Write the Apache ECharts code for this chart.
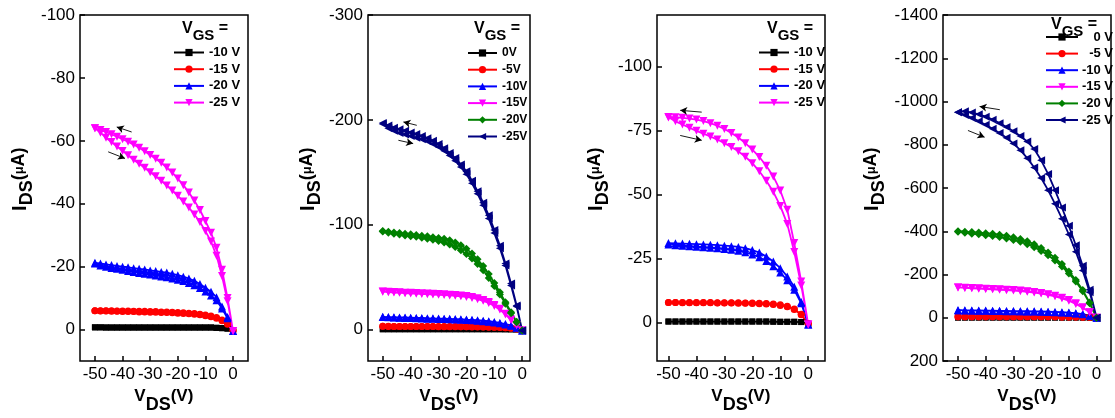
<!DOCTYPE html>
<html>
<head>
<meta charset="utf-8">
<script src="https://cdn.jsdelivr.net/npm/echarts@6/dist/echarts.min.js"></script>
<style>html,body{margin:0;padding:0;background:#fff;}#c{width:1115px;height:418px;}</style>
</head>
<body>
<div id="c"></div>
<script>
// ---------------- DATA ----------------
// drain voltage sweep points (V), from 0 to -50
const vdsFine = [0,-2,-4,-6,-8,-10,-12,-14,-16,-18,-20,-22,-24,-26,-28,-30,-32,-34,-36,-38,-40,-42,-44,-46,-48,-50];
const vdsCoarse = [0,-2.5,-5,-7.5,-10,-12.5,-15,-17.5,-20,-22.5,-25,-27.5,-30,-32.5,-35,-37.5,-40,-42.5,-45,-47.5,-50];
const xTickValues = [-50,-40,-30,-20,-10,0];

// Panel 1 (VGS = -10 .. -25 V), IDS in uA; "a" = branch 0 -> -50, "b" = return branch (listed 0 -> -50)
const p1Labels = ['-10 V','-15 V','-20 V','-25 V'];
const p1YTicks = [-100,-80,-60,-40,-20,0];
const p1_m10_a = [0.3,-0.3,-0.5,-0.6,-0.7,-0.7,-0.7,-0.7,-0.7,-0.7,-0.7,-0.7,-0.7,-0.7,-0.7,-0.7,-0.7,-0.7,-0.7,-0.7,-0.7,-0.7,-0.7,-0.7,-0.7,-0.7];
const p1_m10_b = [0.3,-0.3,-0.4,-0.5,-0.6,-0.6,-0.6,-0.6,-0.6,-0.6,-0.6,-0.6,-0.6,-0.6,-0.6,-0.6,-0.6,-0.6,-0.6,-0.6,-0.6,-0.6,-0.6,-0.6,-0.7,-0.7];
const p1_m15_a = [0.3,-1.9,-3,-3.8,-4.3,-4.6,-4.9,-5.1,-5.2,-5.3,-5.4,-5.5,-5.6,-5.6,-5.7,-5.7,-5.8,-5.8,-5.8,-5.9,-5.9,-5.9,-6,-6,-6,-6];
const p1_m15_b = [0.3,-1.7,-2.8,-3.6,-4.1,-4.4,-4.7,-4.9,-5,-5.1,-5.2,-5.3,-5.4,-5.4,-5.5,-5.5,-5.6,-5.6,-5.7,-5.7,-5.7,-5.8,-5.8,-5.9,-5.9,-6];
const p1_m20_a = [0.5,-4,-7.3,-10.3,-12,-13.3,-14.5,-15.5,-16.2,-16.8,-17.3,-17.7,-18.1,-18.3,-18.6,-18.8,-19.1,-19.3,-19.5,-19.8,-20,-20.2,-20.5,-20.7,-21,-21.2];
const p1_m20_b = [0.5,-3.6,-6.7,-9.3,-10.8,-12.1,-13.2,-14.1,-14.8,-15.4,-15.8,-16.2,-16.6,-16.9,-17.2,-17.5,-17.7,-18,-18.3,-18.6,-19,-19.3,-19.6,-20,-20.4,-21];
const p1_m25_a = [0.5,-10,-19,-26,-30.8,-34.5,-38,-41,-43.6,-45.9,-48,-49.9,-51.5,-53,-54.3,-55.5,-56.7,-57.8,-58.8,-59.7,-60.5,-61.3,-62.1,-62.8,-63.4,-64];
const p1_m25_b = [0.5,-9,-17,-23.5,-28,-31.3,-34.2,-36.6,-38.8,-40.7,-42.5,-44.2,-45.8,-47.3,-48.7,-50,-51.4,-52.7,-54,-55.4,-56.8,-58.2,-59.6,-61,-62.6,-64];
const p1Arrows = [[[-36.7,-62.8],[-42.1,-64.4]],[[-45.2,-56.5],[-39.1,-54.4]]];

// Panel 2 (VGS = 0 .. -25 V)
const p2Labels = ['0V','-5V','-10V','-15V','-20V','-25V'];
const p2YTicks = [-300,-200,-100,0];
const p2_0_a = [0.5,-0.1,-0.2,-0.3,-0.3,-0.3,-0.3,-0.3,-0.3,-0.3,-0.3,-0.3,-0.3,-0.3,-0.3,-0.3,-0.3,-0.3,-0.3,-0.3,-0.3,-0.3,-0.3,-0.3,-0.3,-0.3];
const p2_0_b = [0.5,-0.1,-0.2,-0.2,-0.3,-0.3,-0.3,-0.3,-0.3,-0.3,-0.3,-0.3,-0.3,-0.3,-0.3,-0.3,-0.3,-0.3,-0.3,-0.3,-0.3,-0.3,-0.3,-0.3,-0.3,-0.3];
const p2_m5_a = [1,-0.7,-1.4,-1.8,-2.1,-2.2,-2.4,-2.5,-2.6,-2.6,-2.7,-2.7,-2.8,-2.8,-2.8,-2.8,-2.9,-2.9,-2.9,-2.9,-3,-3,-3,-3,-3.1,-3.1];
const p2_m5_b = [1,-0.6,-1.3,-1.7,-2,-2.1,-2.3,-2.4,-2.5,-2.5,-2.6,-2.6,-2.7,-2.7,-2.7,-2.7,-2.8,-2.8,-2.8,-2.8,-2.9,-2.9,-2.9,-3,-3,-3.1];
const p2_m10_a = [1,-1.9,-3.9,-5.2,-6.3,-7.2,-7.9,-8.4,-8.9,-9.3,-9.5,-9.8,-10,-10.2,-10.4,-10.5,-10.7,-10.8,-11,-11.1,-11.3,-11.5,-11.6,-11.8,-11.9,-12.1];
const p2_m10_b = [1,-1.7,-3.6,-4.9,-6,-6.8,-7.5,-8,-8.5,-8.9,-9.1,-9.4,-9.6,-9.8,-10,-10.1,-10.3,-10.4,-10.6,-10.8,-10.9,-11.1,-11.3,-11.5,-11.7,-12];
const p2_m15_a = [1,-4.4,-9.7,-15,-19.8,-23.3,-26.2,-28.2,-29.8,-31,-31.9,-32.5,-33,-33.3,-33.6,-33.8,-34.1,-34.3,-34.5,-34.8,-35,-35.2,-35.5,-35.7,-36,-36.2];
const p2_m15_b = [1,-4.2,-9.2,-14.3,-19,-22.5,-25.4,-27.4,-29,-30.2,-31.1,-31.7,-32.2,-32.5,-32.9,-33.1,-33.4,-33.7,-33.9,-34.2,-34.4,-34.7,-35,-35.3,-35.6,-36];
const p2_m20_a = [1,-7.5,-16.5,-26,-35.5,-44.5,-53,-60.5,-67,-72.5,-77,-80.3,-83,-85.2,-86.6,-87.3,-88.1,-88.9,-89.5,-90.2,-90.8,-91.4,-92,-92.6,-93.2,-94];
const p2_m20_b = [1,-7,-15.5,-24.5,-33.5,-41.5,-49.2,-56.5,-62.5,-67.7,-72,-75.7,-78.7,-81,-83,-84.5,-85.6,-86.6,-87.6,-88.4,-89,-89.8,-90.6,-91.4,-92.3,-93.5];
const p2_m25_a = [1,-23,-44,-63,-80,-95,-109,-121,-132,-142,-151,-157.5,-163.5,-168.5,-173,-177,-180,-182.5,-184.5,-186.5,-188,-189.5,-191,-192.5,-194.5,-197];
const p2_m25_b = [1,-22,-42,-61,-77.5,-92,-106,-118.5,-129.5,-139.5,-148,-155,-161,-166,-170.5,-174,-177,-179.5,-181.5,-183,-184.5,-186,-187.5,-189.5,-192,-196];
const p2Arrows = [[[-37.8,-194.8],[-42.6,-198]],[[-44.4,-180.5],[-39.1,-177.4]]];

// Panel 3 (VGS = -10 .. -25 V)
const p3Labels = ['-10 V','-15 V','-20 V','-25 V'];
const p3YTicks = [-100,-75,-50,-25,0];
const p3_m10_a = [0.5,-0.2,-0.3,-0.3,-0.3,-0.4,-0.4,-0.4,-0.4,-0.4,-0.4,-0.4,-0.4,-0.4,-0.4,-0.4,-0.4,-0.4,-0.4,-0.4,-0.4];
const p3_m10_b = [0.5,-0.2,-0.3,-0.3,-0.3,-0.3,-0.4,-0.4,-0.4,-0.4,-0.4,-0.4,-0.4,-0.4,-0.4,-0.4,-0.4,-0.4,-0.4,-0.4,-0.4];
const p3_m15_a = [0.5,-3.2,-5.3,-6.4,-6.9,-7.2,-7.4,-7.5,-7.6,-7.6,-7.7,-7.7,-7.7,-7.7,-7.8,-7.8,-7.8,-7.8,-7.8,-7.8,-7.8];
const p3_m15_b = [0.5,-3,-5.1,-6.2,-6.7,-7,-7.2,-7.3,-7.4,-7.5,-7.5,-7.6,-7.6,-7.6,-7.7,-7.7,-7.7,-7.7,-7.7,-7.8,-7.8];
const p3_m20_a = [0.8,-8,-14,-18,-21.2,-23.8,-25.8,-27.3,-28.3,-29,-29.5,-29.8,-30,-30.2,-30.4,-30.5,-30.6,-30.7,-30.8,-30.9,-31];
const p3_m20_b = [0.8,-7.5,-12.8,-16.5,-19.5,-22,-24,-25.5,-26.6,-27.4,-28,-28.4,-28.7,-29,-29.2,-29.4,-29.6,-29.8,-30,-30.2,-30.5];
const p3_m25_a = [0.8,-16,-31,-44,-51.5,-57,-61.2,-64.6,-67.5,-70,-72.2,-74,-75.5,-76.8,-77.8,-78.6,-79.2,-79.6,-79.9,-80.1,-80.2];
const p3_m25_b = [0.8,-14.5,-27.5,-38.5,-45.5,-51,-55.3,-59,-62.2,-64.7,-66.8,-68.5,-70,-71.4,-72.6,-73.7,-74.8,-76,-77.3,-78.5,-80];
const p3Arrows = [[[-38.1,-82.1],[-45.8,-82.8]],[[-45.8,-73],[-38.1,-71.1]]];

// Panel 4 (VGS = 0 .. -25 V)
const p4Labels = ['0 V','-5 V','-10 V','-15 V','-20 V','-25 V'];
const p4YTicks = [-1400,-1200,-1000,-800,-600,-400,-200,0,200];
const p4_0_a = [0,-0.5,-1,-1,-1,-1,-1,-1,-1,-1,-1,-1,-1,-1,-1,-1,-1,-1,-1,-1,-1];
const p4_0_b = [0,-0.4,-0.8,-1,-1,-1,-1,-1,-1,-1,-1,-1,-1,-1,-1,-1,-1,-1,-1,-1,-1];
const p4_m5_a = [0,-2,-3,-3.5,-4,-4,-4.2,-4.3,-4.4,-4.5,-4.5,-4.6,-4.6,-4.7,-4.7,-4.8,-4.8,-4.9,-4.9,-5,-5];
const p4_m5_b = [0,-1.8,-2.8,-3.3,-3.8,-3.9,-4.1,-4.2,-4.3,-4.4,-4.4,-4.5,-4.5,-4.6,-4.6,-4.7,-4.7,-4.8,-4.8,-4.9,-5];
const p4_m10_a = [0,-10,-17,-21,-24,-25.5,-27,-28,-29,-29.5,-30,-30.5,-31,-31.5,-32,-32.5,-33,-33.5,-34,-34.5,-35];
const p4_m10_b = [0,-9,-16,-20,-23,-24.5,-26,-27,-28,-28.5,-29,-29.5,-30,-30.5,-31,-31.5,-32,-32.5,-33,-34,-35];
const p4_m15_a = [0,-26,-48,-67,-82,-93,-102,-109,-115,-119,-123,-126,-128,-130,-131.5,-133,-134.5,-136,-137.5,-139,-140];
const p4_m15_b = [0,-25,-46,-64,-79,-90,-99,-106,-112,-116.5,-120,-123,-125.5,-127.5,-129.5,-131.5,-133,-134.5,-136,-138,-140];
const p4_m20_a = [0,-70,-128,-175,-214,-248,-277,-302,-323,-340,-354,-364,-372,-379,-384,-388,-391,-394,-396,-398,-400];
const p4_m20_b = [0,-67,-123,-168,-205,-237,-265,-289,-309,-326,-340,-351,-360,-367,-373,-378,-382,-386,-389,-393,-398];
const p4_m25_a = [0,-130,-240,-335,-425,-510,-590,-665,-728,-780,-815,-840,-862,-882,-900,-916,-930,-941,-949,-955,-950];
const p4_m25_b = [0,-118,-218,-305,-385,-458,-527,-590,-646,-695,-738,-775,-806,-832,-854,-874,-892,-909,-924,-938,-950];
const p4Arrows = [[[-34.9,-962],[-42.2,-977]],[[-46.4,-866],[-40.4,-835]]];

// ---------------- STYLE ----------------
const STY = {
  black:   {color:'#000000', symbol:'rect', size:6, rot:0},
  red:     {color:'#FF0000', symbol:'circle', size:7, rot:0},
  blue:    {color:'#0000FF', symbol:'triangle', size:8, rot:0},
  magenta: {color:'#FF00FF', symbol:'triangle', size:8, rot:180},
  green:   {color:'#008000', symbol:'diamond', size:8, rot:0},
  navy:    {color:'#000080', symbol:'triangle', size:8, rot:90}
};

const panels = [
  {labels:p1Labels, yTicks:p1YTicks, vds:vdsFine, xr:[-55.4,5.4], yr:[-100,10], arrows:p1Arrows,
   sets:[[p1_m10_a,p1_m10_b],[p1_m15_a,p1_m15_b],[p1_m20_a,p1_m20_b],[p1_m25_a,p1_m25_b]],
   sty:['black','red','blue','magenta'],
   grid:{left:80, top:15, width:168, height:346}, nameGap:44,
   legend:{left:173, top:46, fs:13, iw:30}, title:{left:182, top:21}, rightAlign:false},
  {labels:p2Labels, yTicks:p2YTicks, vds:vdsFine, xr:[-55.3,2.8], yr:[-300,30], arrows:p2Arrows,
   sets:[[p2_0_a,p2_0_b],[p2_m5_a,p2_m5_b],[p2_m10_a,p2_m10_b],[p2_m15_a,p2_m15_b],[p2_m20_a,p2_m20_b],[p2_m25_a,p2_m25_b]],
   sty:['black','red','blue','magenta','green','navy'],
   grid:{left:368, top:15, width:162, height:346}, nameGap:44,
   legend:{left:467, top:46.5, fs:12, iw:29}, title:{left:474, top:21}, rightAlign:false},
  {labels:p3Labels, yTicks:p3YTicks, vds:vdsCoarse, xr:[-54.1,6.0], yr:[-120,15], arrows:p3Arrows,
   sets:[[p3_m10_a,p3_m10_b],[p3_m15_a,p3_m15_b],[p3_m20_a,p3_m20_b],[p3_m25_a,p3_m25_b]],
   sty:['black','red','blue','magenta'],
   grid:{left:657, top:15, width:168, height:346}, nameGap:45,
   legend:{left:758, top:46, fs:13, iw:30}, title:{left:767, top:21}, rightAlign:false},
  {labels:p4Labels, yTicks:p4YTicks, vds:vdsCoarse, xr:[-55.4,5.2], yr:[-1400,200], arrows:p4Arrows,
   sets:[[p4_0_a,p4_0_b],[p4_m5_a,p4_m5_b],[p4_m10_a,p4_m10_b],[p4_m15_a,p4_m15_b],[p4_m20_a,p4_m20_b],[p4_m25_a,p4_m25_b]],
   sty:['black','red','blue','magenta','green','navy'],
   grid:{left:943, top:15, width:168, height:346}, nameGap:55,
   legend:{left:1045, top:30.5, fs:13, iw:32}, title:{left:1051, top:17}, rightAlign:true}
];

const FONT = 'Liberation Sans, Arial, sans-serif';
const richName = {
  sp:{width:18, fontSize:1, lineHeight:26},
  a:{fontSize:20, fontWeight:'bold', fontFamily:FONT, color:'#000', lineHeight:19, verticalAlign:'top'},
  b:{fontSize:18, fontWeight:'bold', fontFamily:FONT, color:'#000', lineHeight:19, verticalAlign:'bottom'},
  c:{fontSize:18, fontWeight:'bold', fontFamily:FONT, color:'#000', lineHeight:19, verticalAlign:'top'},
  m:{fontSize:13, fontWeight:'bold', fontFamily:FONT, color:'#000', lineHeight:15, verticalAlign:'top', padding:[3,0,0,0]},
  h:{fontSize:1, lineHeight:26, verticalAlign:'middle'}
};
const richXName = {
  a:{fontSize:17, fontWeight:'bold', fontFamily:FONT, color:'#000', lineHeight:18, verticalAlign:'top'},
  b:{fontSize:18, fontWeight:'bold', fontFamily:FONT, color:'#000', lineHeight:18, verticalAlign:'bottom'},
  c:{fontSize:17, fontWeight:'bold', fontFamily:FONT, color:'#000', lineHeight:18, verticalAlign:'top'},
  h:{fontSize:1, lineHeight:26, verticalAlign:'middle'}
};
const richTitle = {
  a:{fontSize:16, fontWeight:'bold', fontFamily:FONT, color:'#000', lineHeight:16, verticalAlign:'top'},
  b:{fontSize:15, fontWeight:'bold', fontFamily:FONT, color:'#000', lineHeight:16, verticalAlign:'bottom'},
  c:{fontSize:16, fontWeight:'bold', fontFamily:FONT, color:'#000', lineHeight:16, verticalAlign:'top'},
  h:{fontSize:1, lineHeight:22, verticalAlign:'middle'}
};

const option = {
  backgroundColor:'#fff',
  animation:false,
  grid:[], xAxis:[], yAxis:[], series:[], legend:[], title:[]
};

panels.forEach((p, pi) => {
  option.grid.push(Object.assign({show:true, borderColor:'#000', borderWidth:1.5, containLabel:false, outerBoundsMode:'none'}, p.grid));
  option.xAxis.push({
    type:'value', gridIndex:pi, min:p.xr[0], max:p.xr[1], position:'bottom',
    name:'{a|V}{b|DS}{c|(V)}{h| }', nameLocation:'middle', nameGap:26,
    nameTextStyle:{rich:richXName},
    axisLine:{show:false, onZero:false}, splitLine:{show:false},
    axisTick:{show:true, inside:true, length:5, lineStyle:{color:'#000', width:1.5}, customValues:xTickValues},
    axisLabel:{color:'#000', fontSize:17, fontFamily:FONT, margin:5, customValues:xTickValues, formatter:v => String(v)}
  });
  option.yAxis.push({
    type:'value', gridIndex:pi, min:p.yr[0], max:p.yr[1], inverse:true, position:'left',
    name:'{sp| }{a|I}{b|DS}{c|(}{m|μ}{c|A)}{h| }', nameLocation:'middle', nameGap:p.nameGap, nameRotate:90,
    nameTextStyle:{rich:richName},
    axisLine:{show:false, onZero:false}, splitLine:{show:false},
    axisTick:{show:true, inside:true, length:5, lineStyle:{color:'#000', width:1.5}, customValues:p.yTicks},
    axisLabel:{color:'#000', fontSize:17, fontFamily:FONT, margin:5, customValues:p.yTicks, formatter:v => String(v)}
  });
  const names = [];
  p.sets.forEach((pair, si) => {
    const st = STY[p.sty[si]];
    const a = pair[0], b = pair[1];
    const data = a.map((y, i) => [p.vds[i], y]);
    for (let i = b.length - 1; i >= 0; i--) data.push([p.vds[i], b[i]]);
    const nm = 'p' + (pi+1) + '|' + p.labels[si];
    names.push(nm);
    const s = {
      type:'line', name:nm, xAxisIndex:pi, yAxisIndex:pi, data:data,
      symbol:st.symbol, symbolSize:st.size, symbolRotate:st.rot,
      showSymbol:true, showAllSymbol:true,
      lineStyle:{color:st.color, width:1.8}, itemStyle:{color:st.color},
      emphasis:{disabled:true}, clip:false
    };
    if (si === p.sets.length - 1) {
      s.markLine = {
        silent:true, symbol:['none','arrow'], symbolSize:[6,7], animation:false,
        label:{show:false}, lineStyle:{color:'#000', width:0.9, type:'solid'},
        emphasis:{disabled:true},
        data:p.arrows.map(ar => [{coord:ar[0]}, {coord:ar[1]}])
      };
    }
    option.series.push(s);
  });
  const lg = {
    data:names, orient:'vertical', left:p.legend.left, top:p.legend.top,
    itemWidth:p.legend.iw, itemHeight:9, itemGap:p.rightAlign ? 3.6 : 3.7, padding:0,
    selectedMode:false,
    textStyle:{color:'#000', fontSize:p.legend.fs, fontWeight:'bold', fontFamily:FONT, lineHeight:13}
  };
  if (p.rightAlign) {
    lg.formatter = n => '{r|' + n.split('|')[1] + '}';
    lg.textStyle.rich = {r:{width:30, align:'right', fontSize:13, fontWeight:'bold', fontFamily:FONT, color:'#000'}};
  } else {
    lg.formatter = n => n.split('|')[1];
  }
  option.legend.push(lg);
  option.title.push({
    text:'{a|V}{b|GS}{c| =}{h| }', left:p.title.left, top:p.title.top, padding:0,
    textStyle:{rich:richTitle}
  });
});

const chart = echarts.init(document.getElementById('c'), null, {renderer:'canvas'});
chart.setOption(option);
</script>
</body>
</html>
